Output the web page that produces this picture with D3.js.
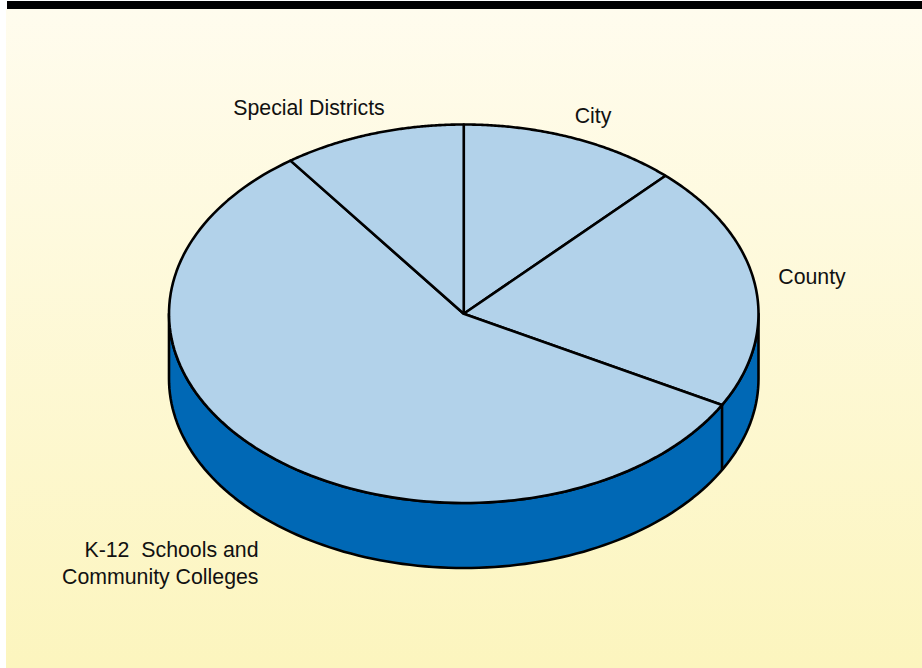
<!DOCTYPE html>
<html>
<head>
<meta charset="utf-8">
<script src="https://cdn.jsdelivr.net/npm/d3@7"></script>
<style>
  html, body { margin: 0; padding: 0; background: #fff; }
  svg { display: block; }
  text { font-family: "Liberation Sans", Arial, sans-serif; font-size: 21.3px; fill: #111; }
</style>
</head>
<body>
<svg id="chart" width="922" height="668"></svg>
<script>
// Shares of the total, in percent, clockwise from twelve o'clock
const categories = ["City", "County", "K-12 Schools and Community Colleges", "Special Districts"];
const shares = [12, 21, 57, 10];

const labelLines = [["City"], ["County"], ["K-12  Schools and", "Community Colleges"], ["Special Districts"]];
const labelSpots = [[593, 123, "middle"], [812, 284, "middle"], [258.5, 557, "end"], [309, 115, "middle"]];

const svg = d3.select("#chart");

const defs = svg.append("defs");
const wash = defs.append("linearGradient")
  .attr("id", "wash").attr("x1", 0).attr("y1", 0).attr("x2", 0).attr("y2", 1);
wash.append("stop").attr("offset", "0%").attr("stop-color", "#fffcee");
wash.append("stop").attr("offset", "100%").attr("stop-color", "#fcf5be");

svg.append("rect").attr("x", 6).attr("y", 9).attr("width", 916).attr("height", 659).attr("fill", "url(#wash)");
svg.append("rect").attr("x", 7).attr("y", 1).attr("width", 915).attr("height", 8).attr("fill", "#000");

// The tilted disc: unit-circle coordinates mapped to the page
const x = d3.scaleLinear().domain([-1, 1]).range([169, 758.5]);
const y = d3.scaleLinear().domain([-1, 1]).range([124.5, 503]);
const depth = 65;

const pie = d3.pie().value(d => d).sort(null);
const arcs = pie(shares);

// Position on the rim for an angle measured clockwise from the top
const rim = (a, drop = 0) => [x(Math.sin(a)), y(-Math.cos(a)) + drop];
const rimRun = (a0, a1, drop = 0) =>
  d3.range(0, 121).map(i => rim(a0 + (a1 - a0) * i / 120, drop));
const line = d3.line();

// Wall of the cylinder, front half only
const wallStart = Math.PI / 2, wallEnd = 3 * Math.PI / 2;
const wall = rimRun(wallStart, wallEnd).concat(rimRun(wallEnd, wallStart, depth));
svg.append("path")
  .attr("d", line(wall) + "Z")
  .attr("fill", "#0068b5")
  .attr("stroke", "#000").attr("stroke-width", 2.6).attr("stroke-linejoin", "round");

// Top face wedges
svg.append("g").selectAll("path").data(arcs).join("path")
  .attr("d", d => line([[x(0), y(0)], ...rimRun(d.startAngle, d.endAngle)]) + "Z")
  .attr("fill", "#b2d2ea")
  .attr("stroke", "#000").attr("stroke-width", 2.6).attr("stroke-linejoin", "round");

// Seams on the wall where a wedge boundary falls on the front half
svg.append("g").selectAll("line")
  .data(arcs.filter(d => d.startAngle > wallStart && d.startAngle < wallEnd))
  .join("line")
  .attr("x1", d => rim(d.startAngle)[0]).attr("y1", d => rim(d.startAngle)[1])
  .attr("x2", d => rim(d.startAngle, depth)[0]).attr("y2", d => rim(d.startAngle, depth)[1])
  .attr("stroke", "#000").attr("stroke-width", 2.6);

// Slice labels
svg.append("g").selectAll("text").data(categories).join("text")
  .attr("x", (d, i) => labelSpots[i][0])
  .attr("y", (d, i) => labelSpots[i][1])
  .attr("text-anchor", (d, i) => labelSpots[i][2])
  .style("white-space", "pre")
  .attr("xml:space", "preserve")
  .each(function (d, i) {
    d3.select(this).selectAll("tspan").data(labelLines[i]).join("tspan")
      .attr("x", labelSpots[i][0])
      .attr("dy", (t, j) => j ? 27 : 0)
      .text(t => t);
  });
</script>
</body>
</html>
